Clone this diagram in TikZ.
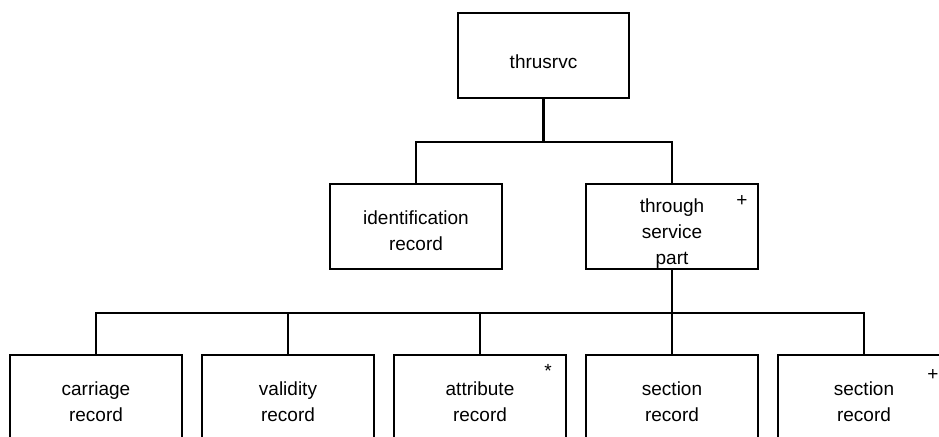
\documentclass[tikz,border=0pt]{standalone}
\usepackage{fontspec}
\setmainfont{Liberation Sans}

\begin{document}
\begin{tikzpicture}[x=0.75pt,y=-0.75pt,line width=1.6pt,
    box/.style={draw,minimum width=128.5pt,minimum height=63.75pt,inner sep=0pt,
        align=center,font=\fontsize{14.25}{19.5}\selectfont},
    lower/.style={text height=#1},
    tag/.style={inner sep=0pt,font=\fontsize{14.25}{17}\selectfont}]
    \useasboundingbox (0,0) rectangle (939,436);
    \clip (0,0) rectangle (939,436);

    \node (top) at (543.5,55.5) [box,lower=20pt]{thrusrvc};
    \node (ident) at (416,226.5) [box,lower=35.9pt]{identification\\record};
    \node (thru) at (672,226.5) [box,lower=59.9pt]{through\\service\\part};

    \foreach \x/\n/\t in {96/carr/carriage,288/valid/validity,480/attr/attribute,
                          672/sect/section,864/sectb/section} {
        \node (\n) at (\x,397.5) [box,lower=35.9pt]{\t\\record};
    }

    \node (thruplus) at (742,201) [tag]{+};
    \node (attrstar) at (548,371) [tag]{*};
    \node (sectplus) at (933,375) [tag]{+};

    \coordinate (bus1) at (543.5,142);
    \coordinate (bus2) at (672,313);

    \draw (top.south) -- (bus1);
    \draw (bus1) -| (ident.north);
    \draw (bus1) -| (thru.north);

    \draw (thru.south) -- (bus2);
    \foreach \n in {carr,valid,attr,sect,sectb} {
        \draw (bus2) -| (\n.north);
    }
\end{tikzpicture}
\end{document}
